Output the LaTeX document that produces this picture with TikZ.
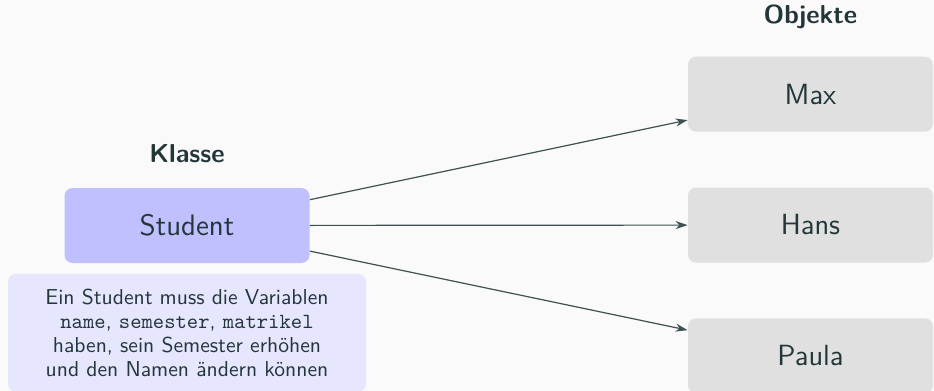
\documentclass[tikz,border=0pt]{standalone}
\usepackage{fontspec}
\usetikzlibrary{positioning,arrows.meta}

\definecolor{textgrau}{HTML}{23373B}
\definecolor{pfeilgrau}{HTML}{3E5052}
\definecolor{hintergrund}{HTML}{FAFAFA}
\definecolor{klassefarbe}{HTML}{C0C0FF}
\definecolor{beschrfarbe}{HTML}{E6E6FF}
\definecolor{objektfarbe}{HTML}{E0E0E0}

\begin{document}
\begin{tikzpicture}[x=0.5pt, y=-0.5pt, node distance=27.5pt, text=textgrau,
    klassebox/.style={fill=klassefarbe, rounded corners=4pt, minimum width=122.5pt,
      minimum height=37.5pt, font=\sffamily\fontsize{14.8}{18}\selectfont},
    objektbox/.style={fill=objektfarbe, rounded corners=4pt, minimum width=122.5pt,
      minimum height=37.5pt, font=\sffamily\fontsize{14.6}{18}\selectfont},
    beschrbox/.style={fill=beschrfarbe, rounded corners=4pt, text width=170pt,
      inner xsep=4.5pt, minimum height=59pt, align=center,
      font=\sffamily\fontsize{10.8}{12}\selectfont},
    titel/.style={font=\sffamily\bfseries\fontsize{13}{15}\selectfont, inner sep=0pt, text depth=0pt},
    pfeil/.style={draw=pfeilgrau, line width=0.6pt, -{Stealth[length=6pt,width=4pt]}}]
  \fill[hintergrund] (0,0) rectangle (934,391);
  \useasboundingbox (0,0) rectangle (934,391);

  % Klasse links
  \node[klassebox] (student) at (187,225.5) {Student};
  \node[titel, above=12.5pt of student] (klasse) {Klasse};
  \node[beschrbox, below=5pt of student] (beschr) {Ein Student muss die Variablen\\
    \texttt{name}, \texttt{semester}, \texttt{matrikel}\\
    haben, sein Semester erhöhen\\
    und den Namen ändern können};

  % Objekte rechts
  \node[objektbox] (hans) at (810.5,225) {Hans};
  \node[objektbox, above=of hans] (max) {Max};
  \node[objektbox, below=of hans] (paula) {Paula};
  \node[titel, above=16pt of max] (objekte) {Objekte};

  \draw[pfeil] (student) -- (max);
  \draw[pfeil] (student) -- (hans);
  \draw[pfeil] (student) -- (paula);
\end{tikzpicture}
\end{document}
